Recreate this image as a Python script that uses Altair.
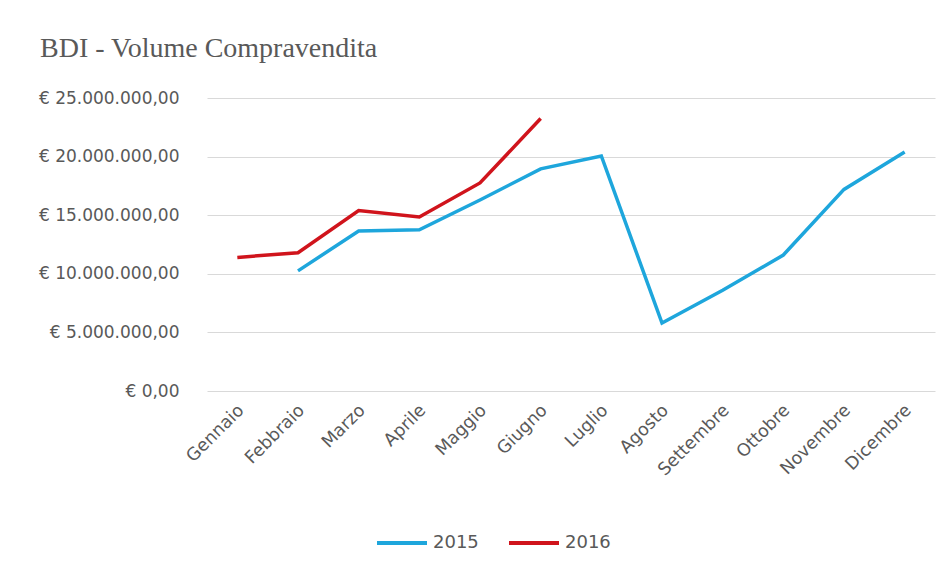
import altair as alt
import pandas as pd

months = ["Gennaio", "Febbraio", "Marzo", "Aprile", "Maggio", "Giugno",
          "Luglio", "Agosto", "Settembre", "Ottobre", "Novembre", "Dicembre"]
v2015 = [None, 10.25e6, 13.65e6, 13.75e6, 16.3e6, 18.95e6,
         20.05e6, 5.8e6, 8.6e6, 11.6e6, 17.2e6, 20.4e6]
v2016 = [11.4e6, 11.8e6, 15.4e6, 14.85e6, 17.75e6, 23.25e6,
         None, None, None, None, None, None]
y_ticks = [0, 5e6, 10e6, 15e6, 20e6, 25e6]

rows = []
for i, m in enumerate(months):
    if v2015[i] is not None:
        rows.append({"Mese": m, "Anno": "2015", "Valore": v2015[i], "ord": i})
    if v2016[i] is not None:
        rows.append({"Mese": m, "Anno": "2016", "Valore": v2016[i], "ord": i})
df = pd.DataFrame(rows)

grey = "#595959"
sans = "DejaVu Sans"

chart = alt.Chart(df).mark_line(strokeWidth=3.5).encode(
    x=alt.X("Mese:N", sort=months, scale=alt.Scale(domain=months, padding=0.5),
            axis=alt.Axis(title=None, labelAngle=-45, labelAlign="right", labelBaseline="top",
                          labelFontSize=17.5, labelColor=grey, labelFont=sans, grid=False,
                          ticks=False, domain=False, labelPadding=10, labelOffset=-3)),
    y=alt.Y("Valore:Q", scale=alt.Scale(domain=[0, 25e6], nice=False),
            axis=alt.Axis(title=None, values=y_ticks, ticks=False, domain=False,
                          labelFontSize=17, labelColor=grey, labelFont=sans, labelPadding=28,
                          gridColor="#d9d9d9", gridWidth=1,
                          labelExpr="datum.value == 0 ? '€ 0,00' : '€ ' + format(datum.value/1000000, 'd') + '.000.000,00'")),
    color=alt.Color("Anno:N", scale=alt.Scale(domain=["2015", "2016"], range=["#1ea6dc", "#d0141c"]),
                    legend=alt.Legend(title=None, orient="none", direction="horizontal",
                                      legendX=168, legendY=418,
                                      symbolType="stroke", symbolSize=2500, symbolStrokeWidth=4,
                                      labelFontSize=18, labelColor=grey, labelFont=sans,
                                      columnPadding=22, labelOffset=4)),
    order="ord:Q",
).properties(
    width=728, height=293,
    background="white",
    title=alt.TitleParams("BDI - Volume Compravendita", anchor="start", frame="group",
                          dx=-167, offset=26, font="Liberation Serif", fontSize=28,
                          fontWeight="normal", color=grey),
    autosize=alt.AutoSizeParams(type="none"),
    padding={"left": 199, "top": 90, "right": 9, "bottom": 172},
).configure_view(stroke=None)

chart.save("out.html", embed_options={"renderer": "svg", "actions": False})
